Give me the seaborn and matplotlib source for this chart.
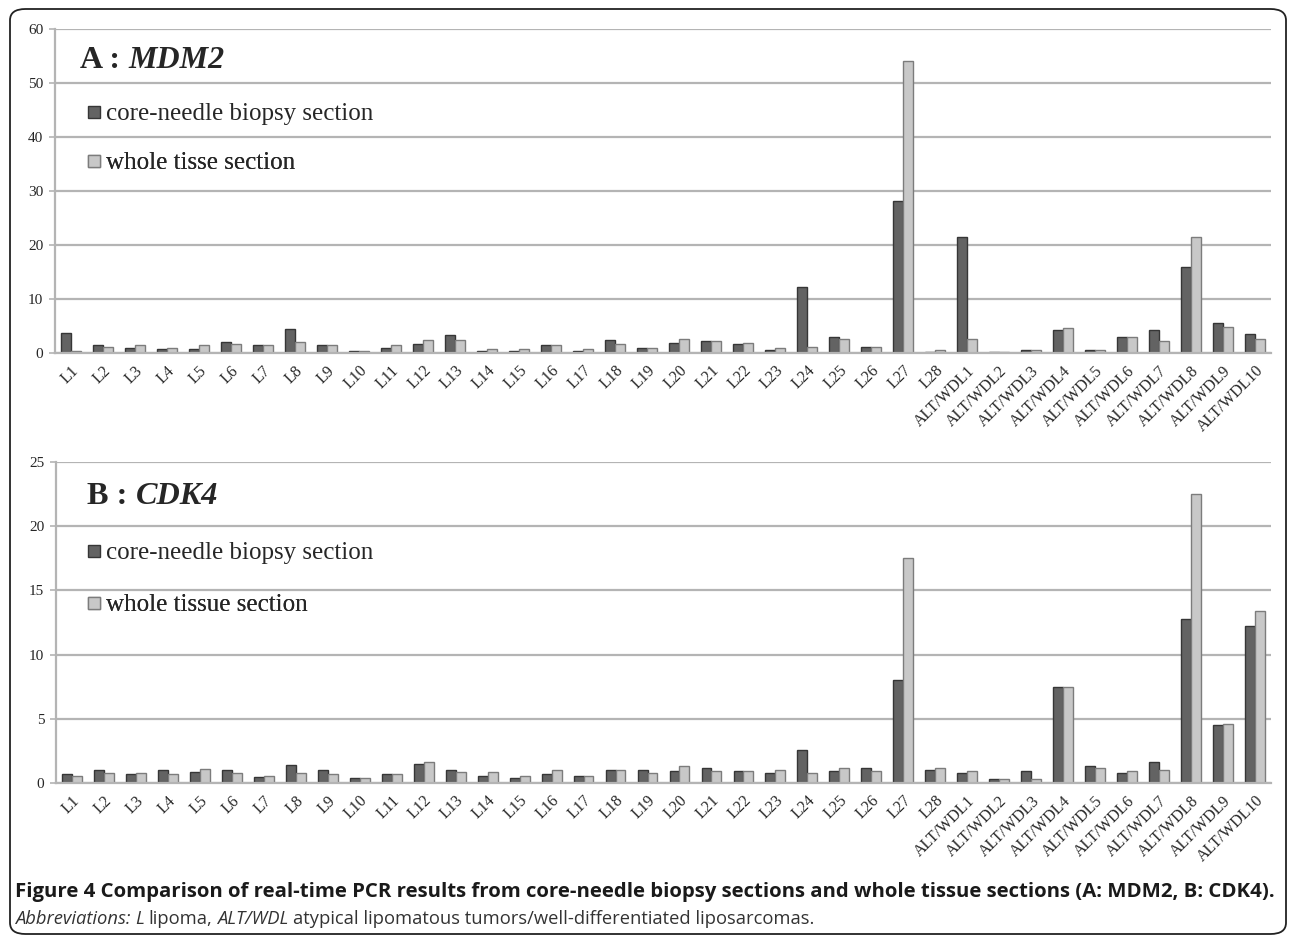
import numpy as np
import pandas as pd
import matplotlib
matplotlib.use("Agg")
import matplotlib.pyplot as plt
import seaborn as sns
from matplotlib.patches import FancyBboxPatch
from matplotlib.lines import Line2D

# Echantillons (axe x)
samples = ["L1", "L2", "L3", "L4", "L5", "L6", "L7", "L8", "L9", "L10",
           "L11", "L12", "L13", "L14", "L15", "L16", "L17", "L18", "L19", "L20",
           "L21", "L22", "L23", "L24", "L25", "L26", "L27", "L28",
           "ALT/WDL1", "ALT/WDL2", "ALT/WDL3", "ALT/WDL4", "ALT/WDL5",
           "ALT/WDL6", "ALT/WDL7", "ALT/WDL8", "ALT/WDL9", "ALT/WDL10"]

# A : MDM2
mdm2_core = [3.75, 1.4, 1.0, 0.7, 0.7, 2.0, 1.4, 4.4, 1.4, 0.35,
             1.0, 1.7, 3.4, 0.35, 0.35, 1.4, 0.35, 2.4, 0.9, 1.9,
             2.2, 1.6, 0.55, 12.2, 2.9, 1.2, 28.2, 0.25,
             21.5, 0.25, 0.55, 4.2, 0.55, 2.9, 4.2, 16.0, 5.6, 3.6]
mdm2_whole = [0.3, 1.1, 1.4, 1.0, 1.4, 1.7, 1.4, 2.0, 1.4, 0.35,
              1.4, 2.4, 2.4, 0.7, 0.7, 1.4, 0.7, 1.7, 0.9, 2.5,
              2.2, 1.9, 0.9, 1.2, 2.5, 1.2, 54.0, 0.55,
              2.5, 0.25, 0.55, 4.6, 0.55, 2.9, 2.2, 21.5, 4.9, 2.5]

# B : CDK4
cdk4_core = [0.7, 1.0, 0.7, 1.0, 0.85, 1.0, 0.45, 1.4, 1.0, 0.4,
             0.7, 1.5, 1.0, 0.55, 0.4, 0.7, 0.55, 1.0, 1.0, 0.9,
             1.15, 0.9, 0.75, 2.55, 0.9, 1.15, 8.0, 1.0,
             0.75, 0.3, 0.9, 7.5, 1.3, 0.75, 1.6, 12.8, 4.5, 12.25]
cdk4_whole = [0.55, 0.8, 0.8, 0.7, 1.1, 0.8, 0.55, 0.8, 0.7, 0.4,
              0.7, 1.65, 0.85, 0.85, 0.55, 1.0, 0.55, 1.0, 0.75, 1.3,
              0.9, 0.9, 1.0, 0.75, 1.15, 0.9, 17.5, 1.15,
              0.9, 0.3, 0.3, 7.5, 1.15, 0.9, 1.0, 22.5, 4.6, 13.4]

core_label = "core-needle biopsy section"
whole_label_a = "whole tisse section"
whole_label_b = "whole tissue section"

dark = "#636363"
light = "#c8c8c8"
grid_col = "#b4b4b4"

W, H = 1290, 938

sns.set_theme(style="white")
plt.rcParams["font.family"] = ["Liberation Serif", "DejaVu Serif"]

fig = plt.figure(figsize=(W / 100, H / 100), dpi=100)

# cadre arrondi
fig.patches.append(FancyBboxPatch((10 / W, 4 / H), 1276 / W, 925 / H,
                                  boxstyle="round,pad=0,rounding_size=0.012",
                                  transform=fig.transFigure, fill=False,
                                  edgecolor="#222222", linewidth=1.3))


def px_axes(left, top, right, bottom):
    # rectangle en pixels -> fraction de figure
    return fig.add_axes([left / W, 1 - bottom / H, (right - left) / W, (bottom - top) / H])


def panel(ax, core, whole, whole_label, ymax, step, leg_rows):
    df = pd.DataFrame({
        "sample": samples * 2,
        "value": core + whole,
        "section": [core_label] * len(samples) + [whole_label] * len(samples),
    })
    sns.barplot(data=df, x="sample", y="value", hue="section",
                palette=[dark, light], width=0.62, errorbar=None,
                legend=False, ax=ax)
    edges = ["#363636", "#7c7c7c"]
    for cont, ec in zip(ax.containers, edges):
        for bar in cont:
            bar.set_edgecolor(ec)
            bar.set_linewidth(1.0)

    ax.set_xlim(-0.5, len(samples) - 0.5)
    ax.set_ylim(0, ymax)
    ax.set_yticks(np.arange(0, ymax + 1, step))
    ax.yaxis.grid(True, color=grid_col, linewidth=1.6)
    ax.set_axisbelow(True)
    for s in ["top", "right"]:
        ax.spines[s].set_visible(False)
    for s in ["left", "bottom"]:
        ax.spines[s].set_color(grid_col)
        ax.spines[s].set_linewidth(1.6)
    ax.set_xlabel("")
    ax.set_ylabel("")
    ax.set_xticks(np.arange(len(samples)))
    ax.set_xticklabels(samples, rotation=45, ha="right", rotation_mode="anchor",
                       fontsize=11.5)
    ax.set_xticks(np.arange(-0.5, len(samples), 1), minor=True)
    ax.tick_params(axis="x", which="major", length=0, pad=7)
    ax.tick_params(axis="x", which="minor", length=4.5, color=grid_col, width=1.2)
    ax.tick_params(axis="y", length=4.5, color=grid_col, width=1.2, labelsize=11,
                   left=True, pad=4)

    # une légende par ligne pour placer chaque entrée
    handles = [Line2D([], [], linestyle="none", marker="s", markersize=8,
                      markerfacecolor=dark, markeredgecolor="#363636"),
               Line2D([], [], linestyle="none", marker="s", markersize=8,
                      markerfacecolor=light, markeredgecolor="#7c7c7c")]
    labels = [core_label, whole_label]
    x0 = ax.transAxes.inverted().transform((84, 0))[0]
    for hnd, lab, yrow in zip(handles, labels, leg_rows):
        y0 = ax.transAxes.inverted().transform((0, H - yrow))[1]
        leg = ax.legend([hnd], [lab], loc="center left", bbox_to_anchor=(x0, y0),
                        frameon=False, fontsize=18, handlelength=0.8,
                        handletextpad=0.1, borderpad=0, borderaxespad=0)
        ax.add_artist(leg)


def place_parts(x, y, parts, size, family, target=None, **kw):
    # textes successifs (styles mélangés) sur une ligne, en pixels
    r = fig.canvas.get_renderer()
    texts = [fig.text(0, 0, s, fontsize=size, family=family, va="center", **kw, **st)
             for s, st in parts]

    def widths():
        return [t.get_window_extent(r).width for t in texts]

    if target:
        total = sum(widths()) + 0.26 * size * 100 / 72 * (len(texts) - 1)
        size = size * target / total
        for t in texts:
            t.set_fontsize(size)
    gap = 0.26 * size * 100 / 72
    cx = x
    for t, w in zip(texts, widths()):
        t.set_position((cx / W, 1 - y / H))
        cx += w + gap


ax_a = px_axes(55, 29, 1271, 353)
ax_b = px_axes(56, 462, 1271, 783)
fig.canvas.draw()

panel(ax_a, mdm2_core, mdm2_whole, whole_label_a, 60, 10, (114, 163))
panel(ax_b, cdk4_core, cdk4_whole, whole_label_b, 25, 5, (553, 605))
fig.canvas.draw()

serif = ["Liberation Serif", "DejaVu Serif"]
place_parts(80, 61, [("A :", dict(fontweight="bold")),
                     ("MDM2", dict(fontweight="bold", fontstyle="italic"))],
            22, serif, target=144)
place_parts(87, 496, [("B :", dict(fontweight="bold")),
                      ("CDK4", dict(fontweight="bold", fontstyle="italic"))],
            22, serif, target=131)

sans = ["Open Sans", "DejaVu Sans"]
place_parts(15, 892,
            [("Figure 4 Comparison of real-time PCR results from core-needle biopsy "
              "sections and whole tissue sections (A: MDM2, B: CDK4).",
              dict(fontweight="bold"))],
            14, sans, target=1265, color="#1a1a1a")
place_parts(15, 919,
            [("Abbreviations:", dict(fontstyle="italic")),
             ("L", dict(fontstyle="italic")),
             ("lipoma,", dict()),
             ("ALT/WDL", dict(fontstyle="italic")),
             ("atypical lipomatous tumors/well-differentiated liposarcomas.", dict())],
            11.5, sans, target=805, color="#333333")

fig.savefig("out.png", dpi=100)
